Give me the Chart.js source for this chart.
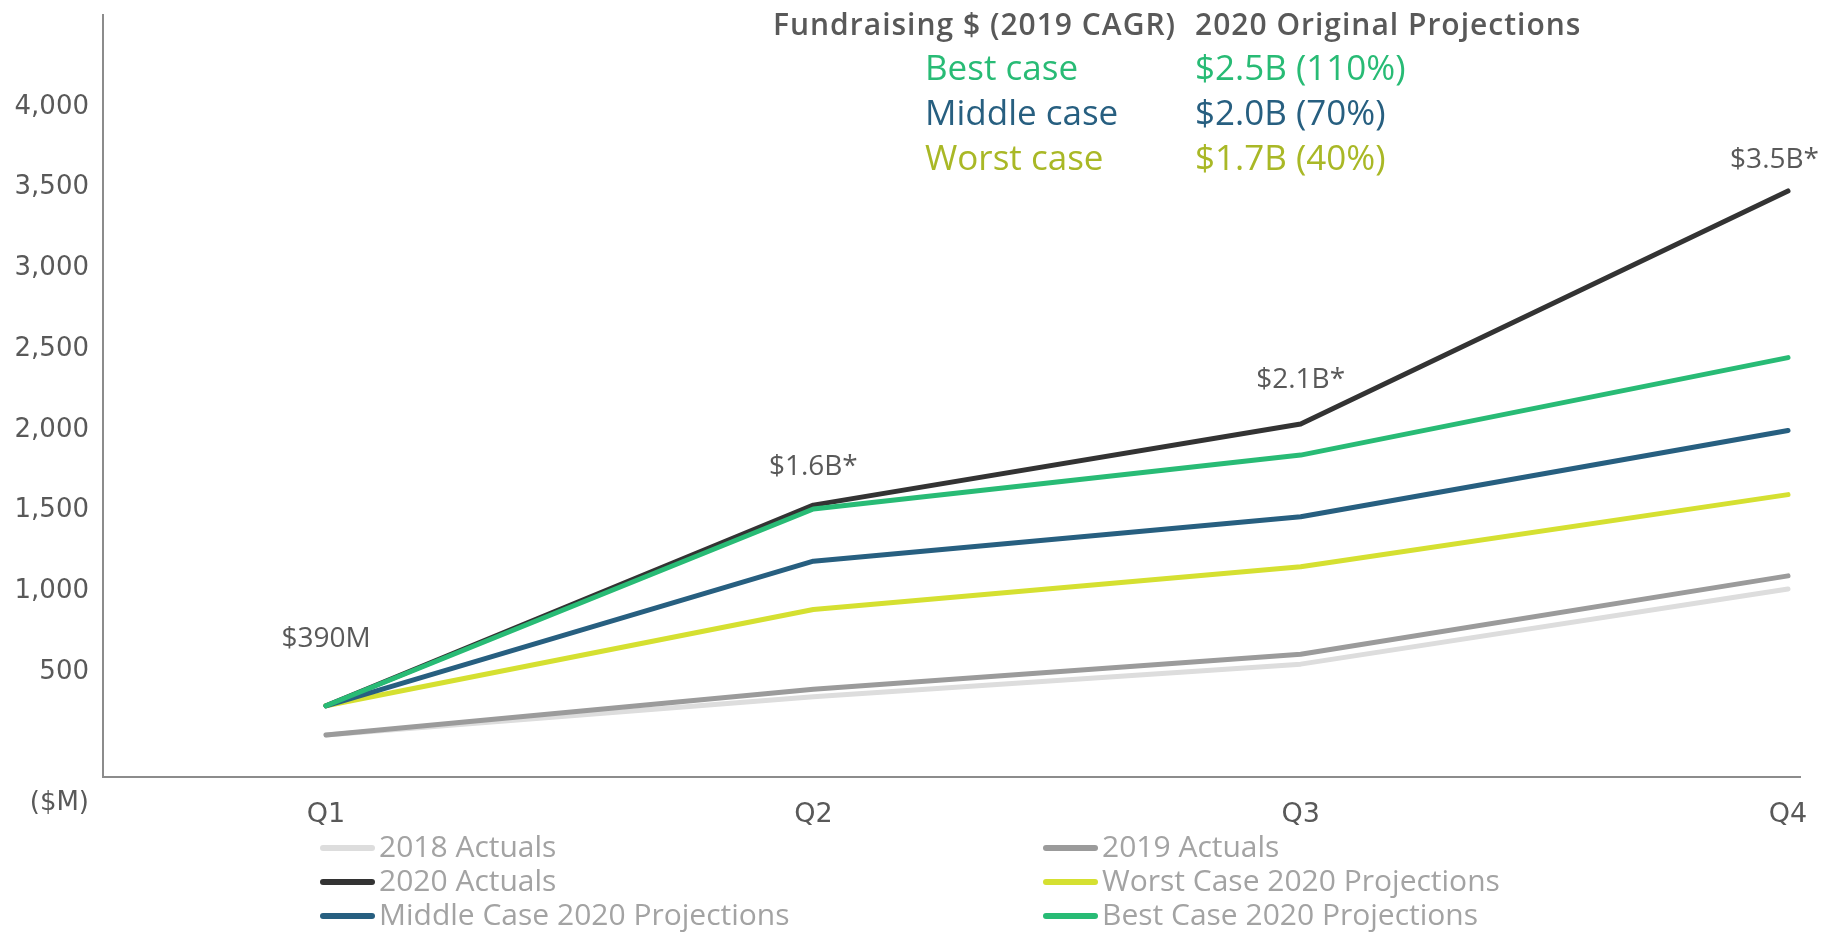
<!DOCTYPE html>
<html>
<head>
<meta charset="utf-8">
<script src="https://cdn.jsdelivr.net/npm/chart.js@4.4.1/dist/chart.umd.min.js"></script>
<style>
  html, body { margin: 0; padding: 0; background: #fff; }
</style>
</head>
<body>
<canvas id="chart" width="1824" height="932"></canvas>
<script>
// values in $M, cumulative by quarter
const quarters = ['Q1', 'Q2', 'Q3', 'Q4'];
const actuals2018 = [110, 347, 549, 1015];
const actuals2019 = [110, 393, 610, 1096];
const actuals2020 = [291, 1534, 2036, 3480];
const worstCase = [291, 888, 1152, 1599];
const middleCase = [291, 1187, 1462, 1996];
const bestCase = [291, 1510, 1844, 2448];
const yTicks = [500, 1000, 1500, 2000, 2500, 3000, 3500, 4000];
const actualLabels = ['$390M', '$1.6B*', '$2.1B*', '$3.5B*'];
const caseNames = ['Best case', 'Middle case', 'Worst case'];
const caseProjections = ['$2.5B (110%)', '$2.0B (70%)', '$1.7B (40%)'];

const GREEN = '#28bb75';
const BLUE = '#275f80';
const YELLOW = '#d5e031';
const TEXT = '#595959';
const TICK_FONT = '"DejaVu Sans", sans-serif';
const SANS = '"Open Sans", sans-serif';

function pts(arr) {
  return arr.map((v, i) => ({ x: i + 1, y: v }));
}

function series(label, arr, color, order) {
  return {
    label: label,
    data: pts(arr),
    borderColor: color,
    backgroundColor: color,
    borderWidth: 5,
    borderCapStyle: 'round',
    borderJoinStyle: 'round',
    pointRadius: 0,
    tension: 0,
    order: order
  };
}

const extras = {
  id: 'extras',
  afterDraw(chart) {
    const ctx = chart.ctx;
    ctx.save();

    // header block
    ctx.textBaseline = 'alphabetic';
    ctx.textAlign = 'left';
    ctx.fillStyle = TEXT;
    ctx.font = '600 30px ' + SANS;
    ctx.letterSpacing = '1px';
    ctx.fillText('Fundraising $ (2019 CAGR)', 773, 35);
    ctx.fillText('2020 Original Projections', 1195, 35);
    ctx.letterSpacing = '0px';
    const caseColors = [GREEN, BLUE, '#a9b826'];
    ctx.font = '35px ' + SANS;
    caseNames.forEach((name, i) => {
      ctx.fillStyle = caseColors[i];
      ctx.fillText(name, 925, 80 + i * 45);
      ctx.fillText(caseProjections[i], 1195, 80 + i * 45);
    });

    // labels above 2020 actuals
    const meta = chart.getDatasetMeta(2);
    const lift = [67, 38, 44, 31];
    ctx.font = '28px ' + SANS;
    ctx.fillStyle = TEXT;
    ctx.textAlign = 'center';
    ctx.textBaseline = 'middle';
    meta.data.forEach((p, i) => {
      const w = ctx.measureText(actualLabels[i]).width;
      const x = Math.min(p.x, 1819 - w / 2);
      ctx.fillText(actualLabels[i], x, p.y - lift[i]);
    });

    // unit label
    ctx.font = '26px ' + TICK_FONT;
    ctx.textAlign = 'right';
    ctx.fillText('($M)', 89, 803);

    // legend, two columns
    const colX = [320, 1043];
    const rowY = [848, 882, 916];
    ctx.font = '30px ' + SANS;
    ctx.textAlign = 'left';
    chart.data.datasets.forEach((ds, i) => {
      const x = colX[i % 2];
      const y = rowY[Math.floor(i / 2)];
      ctx.strokeStyle = ds.borderColor;
      ctx.lineWidth = 6;
      ctx.lineCap = 'round';
      ctx.beginPath();
      ctx.moveTo(x + 3, y);
      ctx.lineTo(x + 52, y);
      ctx.stroke();
      ctx.fillStyle = '#a3a3a3';
      ctx.fillText(ds.label, x + 59, y);
    });

    ctx.restore();
  }
};

const ctx = document.getElementById('chart').getContext('2d');

new Chart(ctx, {
  type: 'line',
  data: {
    datasets: [
      series('2018 Actuals', actuals2018, '#dddddd', 5),
      series('2019 Actuals', actuals2019, '#9b9b9b', 4),
      series('2020 Actuals', actuals2020, '#333333', 3),
      series('Worst Case 2020 Projections', worstCase, YELLOW, 2),
      series('Middle Case 2020 Projections', middleCase, BLUE, 1),
      series('Best Case 2020 Projections', bestCase, GREEN, 0)
    ]
  },
  options: {
    responsive: false,
    animation: false,
    layout: { padding: { top: 15, right: 24, left: 0, bottom: 0 } },
    plugins: {
      legend: { display: false },
      tooltip: { enabled: false }
    },
    scales: {
      x: {
        type: 'linear',
        min: 0.5424,
        max: 4.0246,
        grid: { display: false },
        border: { display: true, color: '#8c8c8c', width: 2 },
        afterBuildTicks: (scale) => {
          scale.ticks = quarters.map((q, i) => ({ value: i + 1 }));
        },
        afterFit: (scale) => {
          scale.height = 155;
          scale.paddingLeft = 0;
          scale.paddingRight = 0;
        },
        ticks: {
          autoSkip: false,
          maxRotation: 0,
          padding: 14,
          color: TEXT,
          font: { family: TICK_FONT, size: 27 },
          callback: (v) => quarters[Math.round(v) - 1]
        }
      },
      y: {
        min: -150,
        max: 4570,
        grid: { display: false },
        border: { display: true, color: '#8c8c8c', width: 2 },
        afterBuildTicks: (scale) => {
          scale.ticks = yTicks.map(v => ({ value: v }));
        },
        afterFit: (scale) => {
          scale.width = 103;
          scale.paddingTop = 0;
          scale.paddingBottom = 0;
        },
        ticks: {
          padding: 6,
          color: TEXT,
          font: { family: TICK_FONT, size: 26 },
          callback: (v) => v.toLocaleString('en-US')
        }
      }
    }
  },
  plugins: [extras]
});
</script>
</body>
</html>
